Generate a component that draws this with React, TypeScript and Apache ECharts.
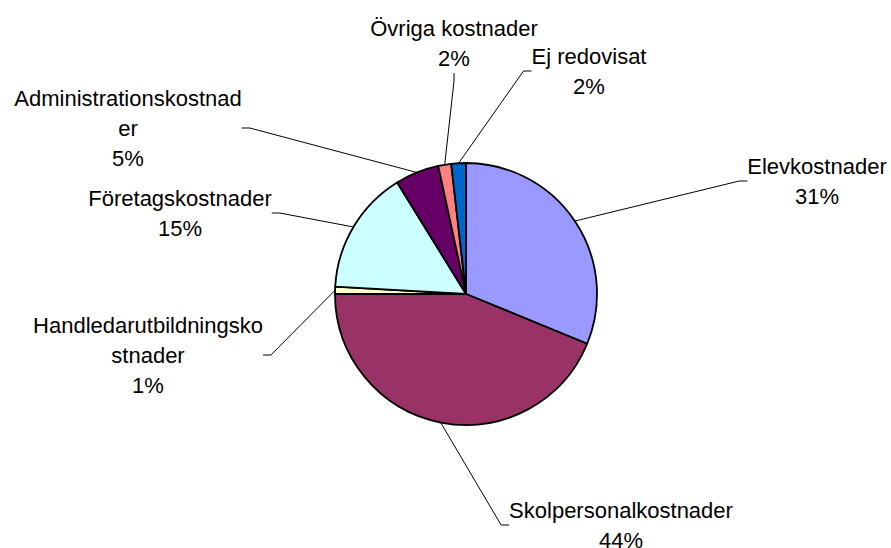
import React, { useEffect, useRef } from "react";
import * as echarts from "echarts";

const categories = [
  "Elevkostnader",
  "Skolpersonalkostnader",
  "Handledarutbildningskostnader",
  "Företagskostnader",
  "Administrationskostnader",
  "Övriga kostnader",
  "Ej redovisat",
];
const labelTexts = [
  "Elevkostnader",
  "Skolpersonalkostnader",
  "Handledarutbildningsko\nstnader",
  "Företagskostnader",
  "Administrationskostnad\ner",
  "Övriga kostnader",
  "Ej redovisat",
];
const values = [31.2, 43.8, 0.9, 15.3, 5.4, 1.6, 1.8];
const colors = ["#9999FF", "#993366", "#FFFFCC", "#CCFFFF", "#660066", "#FF8080", "#0066CC"];
// label centers (layout)
const labelPos: [number, number][] = [
  [817, 181],
  [621, 525],
  [148, 355],
  [180, 213],
  [128, 128],
  [454, 43],
  [589, 71],
];

export default function App() {
  const ref = useRef<HTMLDivElement>(null);
  useEffect(() => {
    document.body.style.margin = "0";
    const chart = echarts.init(ref.current!, undefined, { renderer: "svg" });
    chart.setOption({
      animation: false,
      backgroundColor: "#fff",
      series: [
        {
          type: "pie",
          center: [466, 294],
          radius: 131,
          startAngle: 90,
          clockwise: true,
          data: categories.map((c, i) => ({
            name: c,
            value: values[i],
            itemStyle: { color: colors[i] },
          })),
          itemStyle: { borderColor: "#000", borderWidth: 1.8 },
          label: {
            show: true,
            formatter: (p: any) => `${labelTexts[p.dataIndex]}\n${Math.round(p.percent)}%`,
            fontFamily: "Liberation Sans",
            fontSize: 22,
            lineHeight: 30,
            color: "#000",
            align: "center",
          },
          labelLine: {
            show: true,
            length: 20,
            length2: 8,
            lineStyle: { color: "#000", width: 1 },
          },
          labelLayout: (params: any) => {
            const [x, y] = labelPos[params.dataIndex];
            return { x, y, align: "center", verticalAlign: "middle" };
          },
          emphasis: { disabled: true },
        },
      ],
    });
    return () => chart.dispose();
  }, []);
  return <div ref={ref} style={{ width: 891, height: 548 }} />;
}
